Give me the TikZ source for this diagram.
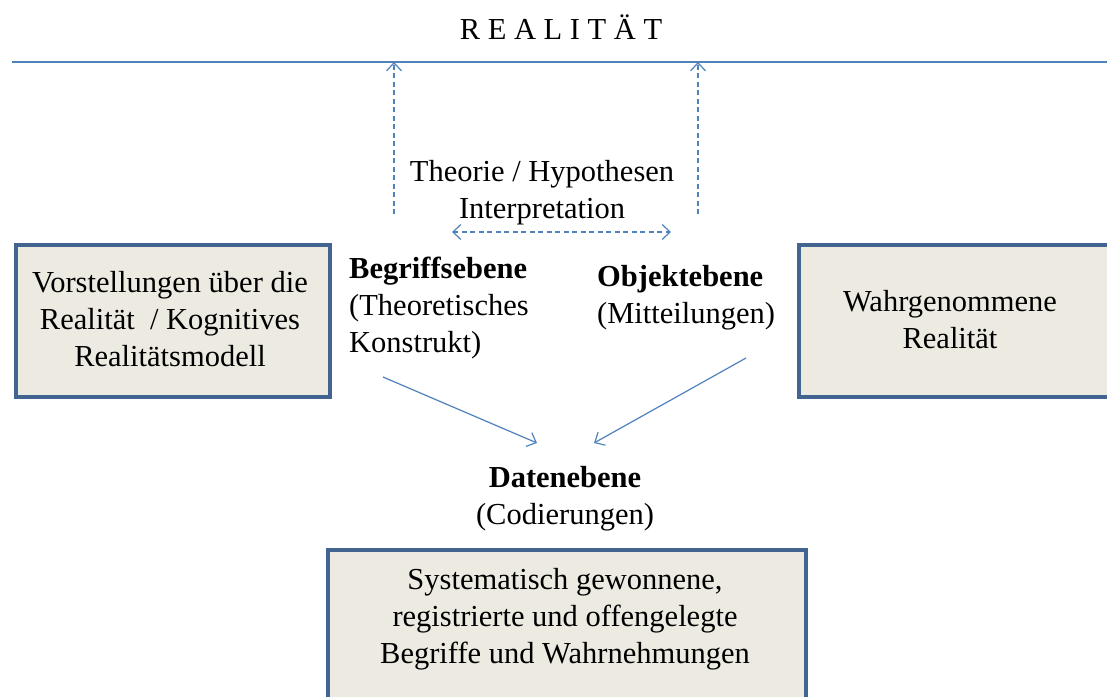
\documentclass[tikz,border=0pt]{standalone}
\usepackage{fontspec}
\setmainfont{Liberation Serif}
\usetikzlibrary{arrows.meta}
\definecolor{linkblue}{RGB}{79,129,189}
\definecolor{frameblue}{RGB}{65,100,145}
\definecolor{boxfill}{RGB}{237,235,225}
\tikzset{
  txt/.style={font=\fontsize{30.5}{37}\selectfont, inner sep=0pt},
  plate/.style={draw=frameblue, line width=4pt, fill=boxfill, inner sep=0pt},
  barb/.tip={Straight Barb[length=8pt,width=15pt,line width=1.2pt]},
  link/.style={draw=linkblue, line width=1.2pt, -barb},
  dlink/.style={link, dash pattern=on 5pt off 3.5pt},
}
\begin{document}
\begin{tikzpicture}[x=1pt,y=-1pt]
\useasboundingbox (0,0) rectangle (1107,696);

% title and the line standing for reality
\node[txt, anchor=base] (realitaet) at (561,39) {R E A L I T Ä T};
\coordinate (lineL) at (12,62);
\coordinate (lineR) at (1107,62);
\draw[linkblue, line width=1.1pt] (lineL) -- (lineR);

% the three boxes
\node[plate, minimum width=314pt, minimum height=152pt, anchor=north west] (vorst) at (14,243) {};
\node[txt, align=center] (vorstT) at (170,319) {Vorstellungen über die\\Realität \ / Kognitives\\Realitätsmodell};
\node[plate, minimum width=310pt, minimum height=152pt, anchor=north west] (wahr) at (797,243) {};
\node[txt, align=center] (wahrT) at (950,320) {Wahrgenommene\\Realität};
\node[plate, minimum width=478pt, minimum height=200pt, anchor=north west] (sys) at (326,548) {};
\node[txt, align=center] (sysT) at (565,619) {Systematisch gewonnene,\\registrierte und offengelegte\\Begriffe und Wahrnehmungen};

% level labels (base anchor sits on the last line)
\node[txt, align=center, anchor=base] (theorie) at (542,218) {Theorie / Hypothesen\\Interpretation};
\node[txt, align=left, anchor=base west] (begriff) at (349,352) {\textbf{Begriffsebene}\\(Theoretisches\\Konstrukt)};
\node[txt, align=left, anchor=base west] (objekt) at (597,323) {\textbf{Objektebene}\\(Mitteilungen)};
\node[txt, align=center, anchor=base] (daten) at (565,524) {\textbf{Datenebene}\\(Codierungen)};

% connectors
\coordinate (upL) at (394,214);
\coordinate (upR) at (698,214);
\path (upL |- lineL) coordinate (topL);
\path (upR |- lineL) coordinate (topR);
\draw[dlink] (upL) -- (topL);
\draw[dlink] (upR) -- (topR);
\coordinate (hL) at (452,232);
\coordinate (hR) at (671,232);
\draw[dlink, barb-barb] (hL) -- (hR);
\coordinate (bStart) at (383,377);
\coordinate (oStart) at (746,358);
\coordinate (dInL) at (537,443);
\coordinate (dInR) at (594,443);
\draw[link] (bStart) -- (dInL);
\draw[link] (oStart) -- (dInR);
\end{tikzpicture}
\end{document}
